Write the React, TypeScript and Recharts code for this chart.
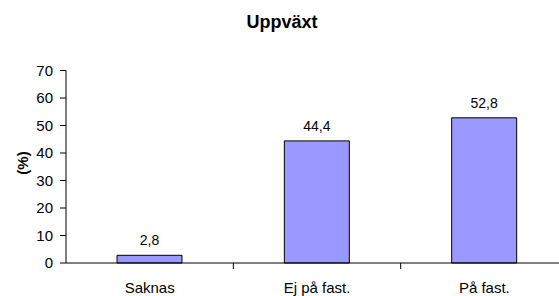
import React from 'react';
import { BarChart, Bar, XAxis, YAxis, LabelList } from 'recharts';

const categories = ['Saknas', 'Ej på fast.', 'På fast.'];
const values = [2.8, 44.4, 52.8];
const yTicks = [0, 10, 20, 30, 40, 50, 60, 70];

const data = categories.map((name, i) => ({ name, value: values[i] }));

const FONT = '"Liberation Sans", Arial, sans-serif';

// category label plus a tick mark at the right edge of each band
const CategoryTick = (props: any) => {
  const { x, y, payload, index, visibleTicksCount, width } = props;
  const half = payload?.offset ?? width / visibleTicksCount / 2;
  return (
    <g>
      {index < visibleTicksCount - 1 && (
        <line x1={x + half} y1={y} x2={x + half} y2={y + 6} stroke="#000" strokeWidth={1} />
      )}
      <text x={x} y={y} dy={30} textAnchor="middle" fontSize={15} fontFamily={FONT} fill="#000">
        {payload.value}
      </text>
    </g>
  );
};

const App: React.FC = () => {
  return (
    <div style={{ position: 'absolute', left: 0, top: 0, width: 559, height: 296, overflow: 'hidden', background: '#fff' }}>
      <div style={{ position: 'absolute', left: 0, width: 564, top: 12, textAlign: 'center', fontFamily: FONT, fontWeight: 'bold', fontSize: 18 }}>
        Uppväxt
      </div>
      <div style={{ position: 'absolute', left: 22, top: 163, transform: 'translate(-50%, -50%) rotate(-90deg)', fontFamily: FONT, fontWeight: 'bold', fontSize: 15, whiteSpace: 'nowrap' }}>
        (%)
      </div>
      <BarChart width={568} height={296} data={data} margin={{ top: 70.5, right: 0, bottom: 0, left: 0 }}>
        <XAxis
          dataKey="name"
          height={33}
          tickLine={false}
          tickSize={0}
          tickMargin={0}
          axisLine={{ stroke: '#000', strokeWidth: 1 }}
          tick={<CategoryTick />}
          interval={0}
        />
        <YAxis
          width={66}
          domain={[0, 70]}
          ticks={yTicks}
          interval={0}
          tickSize={6}
          tickMargin={7}
          axisLine={{ stroke: '#000', strokeWidth: 1 }}
          tickLine={{ stroke: '#000', strokeWidth: 1 }}
          tick={{ fontSize: 15, fontFamily: FONT, fill: '#000' }}
        />
        <Bar dataKey="value" fill="#9999FF" stroke="#000" strokeWidth={1} barSize={65} isAnimationActive={false}>
          <LabelList
            dataKey="value"
            position="top"
            offset={10}
            formatter={(v: any) => String(v).replace('.', ',')}
            style={{ fontSize: 14, fontFamily: FONT, fill: '#000' }}
          />
        </Bar>
      </BarChart>
    </div>
  );
};

export default App;
